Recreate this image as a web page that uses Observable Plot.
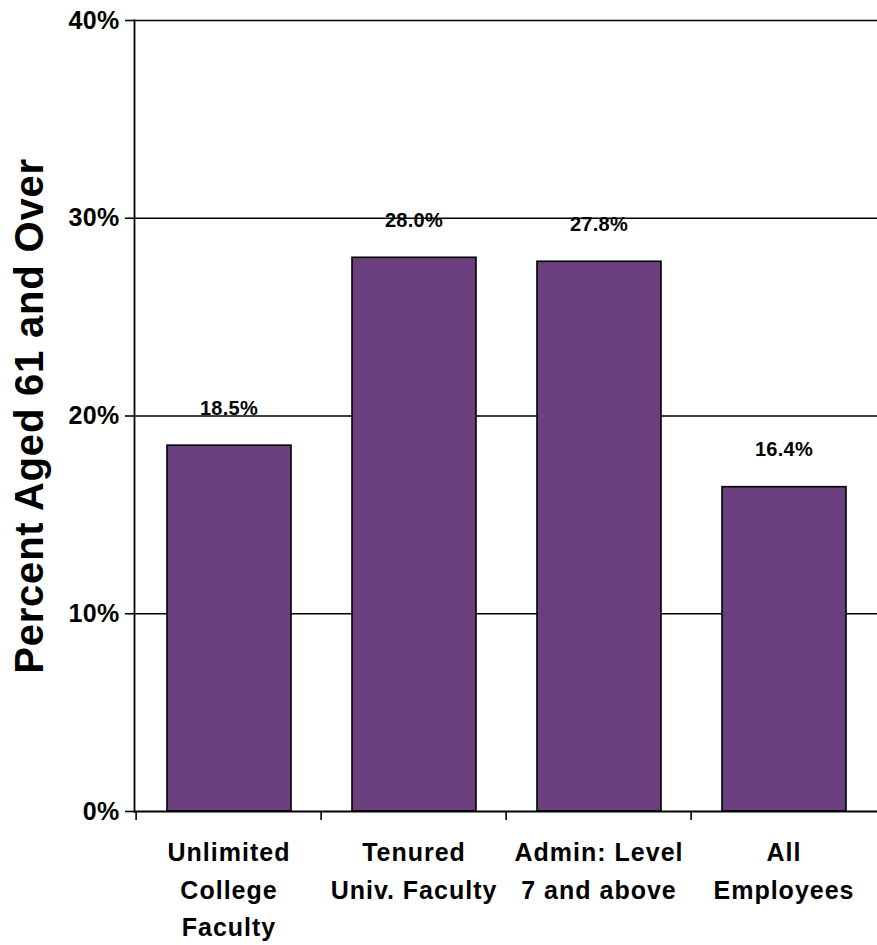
<!DOCTYPE html>
<html>
<head>
<meta charset="utf-8">
<script src="https://cdn.jsdelivr.net/npm/d3@7"></script>
<script src="https://cdn.jsdelivr.net/npm/@observablehq/plot@0.6"></script>
<style>
  html, body { margin: 0; padding: 0; background: #fff; }
  #chart svg { font-family: "Liberation Sans", Arial, sans-serif; }
  #chart svg text { letter-spacing: 0.3px; }
  #chart g[aria-label="x-axis tick label"] text { letter-spacing: 1px; }
  #chart g[aria-label="text"]:last-of-type text { letter-spacing: 0.8px; }
</style>
</head>
<body>
<div id="chart"></div>
<script>
const categories = ["Unlimited\nCollege\nFaculty", "Tenured\nUniv. Faculty", "Admin: Level\n7 and above", "All\nEmployees"];
const values = [18.5, 28.0, 27.8, 16.4];
const valueLabels = ["18.5%", "28.0%", "27.8%", "16.4%"];
const yTicks = [0, 10, 20, 30, 40];
const yLabel = "Percent Aged 61 and Over";

const data = categories.map((c, i) => ({category: c, value: values[i], label: valueLabels[i]}));

const W = 877, H = 945;
const mL = 134, mR = 0, mT = 20, mB = 134;
const step = (W - mL - mR) / categories.length;

const chart = Plot.plot({
  width: W,
  height: H,
  marginLeft: mL,
  marginRight: mR,
  marginTop: mT,
  marginBottom: mB,
  style: {fontFamily: "'Liberation Sans', Arial, sans-serif", background: "#fff", color: "#000", overflow: "visible"},
  x: {domain: categories, padding: 0, axis: null},
  y: {domain: [0, 40], axis: null},
  marks: [
    Plot.gridY(yTicks.filter(d => d > 0), {stroke: "#000", strokeOpacity: 1, strokeWidth: 1.6}),
    Plot.barY(data, {x: "category", y: "value", fill: "#6b3e7e", stroke: "#000", strokeWidth: 1.6, insetLeft: 31, insetRight: 30}),
    Plot.ruleY([0], {stroke: "#000", strokeWidth: 1.8}),
    Plot.frame({anchor: "left", stroke: "#000", strokeWidth: 1.8}),
    Plot.ruleX(categories, {x: d => d, dx: -step / 2, stroke: "#000", strokeWidth: 1.6, insetTop: H - mT - mB, insetBottom: -9}),
    Plot.axisY({ticks: yTicks, tickFormat: d => d + "%", tickSize: 9, tickPadding: 6, fontSize: 25, fontWeight: "bold", stroke: "#000", strokeWidth: 1.6, label: null}),
    Plot.axisX({tickSize: 0, tickPadding: 23, fontSize: 25, fontWeight: "bold", lineHeight: 1.5, label: null}),
    Plot.text(data, {x: "category", y: "value", text: "label", lineAnchor: "bottom", dy: -31, fontSize: 20, fontWeight: "bold", fill: "#000"}),
    Plot.text([yLabel], {frameAnchor: "left", textAnchor: "middle", rotate: -90, dx: -104, fontSize: 40, fontWeight: "bold", fill: "#000"})
  ]
});

document.getElementById("chart").appendChild(chart);
</script>
</body>
</html>
